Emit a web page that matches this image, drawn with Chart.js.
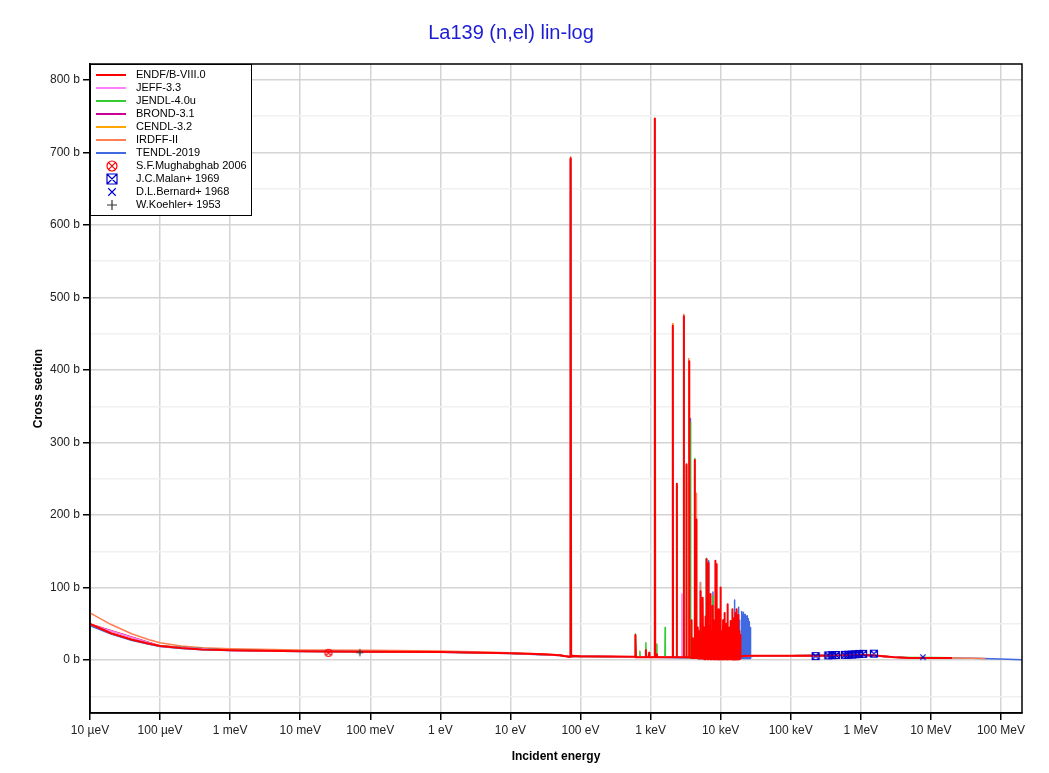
<!DOCTYPE html>
<html>
<head>
<meta charset="utf-8">
<title>La139 (n,el) lin-log</title>
<script src="https://cdn.jsdelivr.net/npm/chart.js@4.4.1/dist/chart.umd.min.js"></script>
<style>
  body { margin: 0; background: #fff; }
  canvas { display: block; }
</style>
</head>
<body>
<canvas id="xsChart" width="1049" height="773"></canvas>
<script>
// energy axis (eV) and its tick labels
const energyTicks = [1e-5, 1e-4, 1e-3, 1e-2, 1e-1, 1, 10, 100, 1e3, 1e4, 1e5, 1e6, 1e7, 1e8];
const energyTickLabels = ["10 µeV", "100 µeV", "1 meV", "10 meV", "100 meV", "1 eV", "10 eV",
    "100 eV", "1 keV", "10 keV", "100 keV", "1 MeV", "10 MeV", "100 MeV"];
const sectionTicks = [-50, 0, 50, 100, 150, 200, 250, 300, 350, 400, 450, 500, 550, 600, 650, 700, 750, 800];

// ENDF/B-VIII.0
const endfE = [1e-5, 2e-5, 4e-5, 7e-5, 1e-4, 2e-4, 4e-4, 1e-3, 1e-2, 0.1, 1, 4, 10, 30, 50, 68,
    71.0, 72.3, 73.6, 76, 100, 300, 600,
    602, 611, 620, 845, 857, 869, 945, 955, 965, 1135, 1150, 1165, 1220, 1230, 1240,
    2060, 2077, 2094, 2350, 2366, 2382, 2960, 2979, 2998, 3230, 3250, 3270,
    3540, 3560, 3580, 3820, 3840, 3860, 3980, 4000, 4020, 4250, 4271, 4292, 4490, 4509, 4528,
    4690, 4710, 4730,
    4844, 4864, 4884, 4980, 5000, 5020, 5123, 5143, 5163, 5230, 5250, 5270,
    5347, 5367, 5387, 5460, 5480, 5500, 5581, 5601, 5621, 5690, 5710, 5730,
    5806, 5826, 5846, 5999, 6019, 6039, 6110, 6140, 6170, 6231, 6261, 6291,
    6370, 6400, 6430, 6504, 6534, 6564, 6610, 6640, 6670, 6721, 6751, 6781,
    6910, 6940, 6970, 7108, 7138, 7168, 7260, 7290, 7320, 7417, 7447, 7477,
    7580, 7610, 7640, 7741, 7771, 7801, 7895, 7925, 7955, 8052, 8082, 8112,
    8210, 8240, 8270, 8376, 8406, 8436, 8656, 8686, 8716, 8840, 8870, 8900,
    9034, 9064, 9094, 9230, 9260, 9290, 9429, 9459, 9489, 9650, 9680, 9710,
    9872, 9902, 9932, 10070, 10110, 10150, 10290, 10330, 10370, 10550, 10590, 10630,
    10810, 10850, 10890, 11030, 11070, 11110, 11250, 11290, 11330, 11490, 11530, 11570,
    11740, 11780, 11820, 11930, 11970, 12010, 12130, 12170, 12210, 12390, 12430, 12470,
    12660, 12700, 12740, 12910, 12950, 12990, 13170, 13210, 13250, 13430, 13470, 13510,
    13700, 13740, 13780, 14000, 14040, 14080, 14300, 14340, 14380, 14540, 14580, 14620,
    14780, 14820, 14860, 15020, 15060, 15100, 15270, 15310, 15350, 15520, 15560, 15600,
    15780, 15820, 15860, 16040, 16080, 16120, 16310, 16350, 16390, 16690, 16730, 16770,
    17050, 17090, 17130, 17410, 17450, 17490, 17700, 17740, 17780, 17990, 18030, 18070,
    18290, 18330, 18370, 18600, 18640, 18680, 18900, 18940, 18980, 19210, 19250, 19290,
    20000, 30000, 1e5, 3e5, 1e6, 1.5e6, 3e6, 5e6, 8e6, 1.5e7, 2e7];
const endfXS = [50, 37, 28, 22.5, 19.5, 16.5, 14.5, 13.4, 12, 11.4, 11, 10, 9.3, 8, 6.5, 4.5,
    4.5, 692, 5, 6, 5.2, 4.8, 4.5,
    4, 34.5, 4, 4, 14, 4, 4, 10, 4, 4, 747, 4, 4, 8, 4,
    4, 461, 4, 4, 243, 4, 4, 474, 4, 4, 270, 4,
    4, 412, 4, 3, 55, 3, 3, 30, 3, 3, 276, 3, 3, 194, 3,
    3, 45, 3,
    2, 40, 2, 2, 25, 2, 2, 95, 2, 2, 35, 2,
    2, 30, 2, 2, 20, 2, 2, 86, 2, 2, 30, 2,
    2, 45, 1, 1, 60, 2, 2, 35, 2, 2, 139, 2,
    2, 40, 2, 2, 50, 1, 1, 30, 2, 1, 134, 2,
    2, 45, 2, 2, 91, 1, 1, 30, 2, 1, 40, 2,
    2, 35, 2, 2, 75, 1, 1, 40, 2, 1, 55, 2,
    2, 30, 2, 2, 137, 1, 1, 132, 2, 2, 40, 1,
    1, 45, 2, 2, 30, 2, 1, 70, 2, 2, 45, 1,
    1, 100, 2, 2, 30, 1, 1, 40, 2, 2, 35, 1,
    1, 55, 2, 2, 30, 1, 1, 65, 2, 2, 40, 1,
    1, 40, 2, 2, 25, 1, 1, 50, 2, 2, 35, 1,
    1, 77, 2, 2, 30, 1, 1, 45, 2, 2, 40, 1,
    1, 54, 2, 2, 30, 1, 1, 40, 2, 2, 35, 1,
    1, 70, 2, 2, 30, 1, 1, 50, 2, 2, 40, 1,
    1, 58, 2, 2, 30, 1, 1, 65, 2, 2, 70, 1,
    1, 35, 2, 2, 45, 1, 1, 30, 2, 2, 62, 1,
    1, 35, 2, 2, 40, 1, 1, 25, 2, 2, 35, 4,
    5.5, 6, 5.8, 5.8, 7, 6.5, 4, 2.8, 2.8, 3, 3];

// JEFF-3.3
const jeffE = [1e-5, 1e-4, 1e-3, 1e-2, 1, 10, 50, 71.0, 72.3, 73.6, 100, 1135, 1150, 1165,
    2060, 2077, 2094, 2780, 2800, 2820, 2960, 2979, 2998, 20000, 1e5, 1e6, 5e6, 2e7];
const jeffXS = [49, 19.2, 13.3, 12, 11, 9.3, 6.5, 4.5, 690, 5, 5.2, 4, 745, 4,
    4, 458, 4, 4, 91, 4, 4, 470, 4, 5.5, 5.8, 7, 2.8, 3];

// JENDL-4.0u
const jendlE = [1e-5, 2e-5, 4e-5, 1e-4, 1e-3, 1e-2, 1, 10, 50, 71.0, 72.3, 73.6, 100,
    602, 611, 620, 694, 704, 714, 845, 857, 869, 945, 955, 965, 1135, 1150, 1165,
    1220, 1230, 1240, 1600, 1613, 1626, 2060, 2077, 2094, 2350, 2366, 2382,
    2960, 2979, 2998, 3230, 3250, 3270, 3680, 3700, 3720, 4250, 4271, 4292,
    6231, 6261, 6291, 7741, 7771, 7801, 20000, 1e5, 1e6, 3e6, 5e6, 1e7, 2e7];
const jendlXS = [49.5, 37, 28, 19.4, 13.4, 12, 11, 9.3, 6.5, 4.5, 690, 5, 5.2,
    4, 36, 4, 4, 12, 4, 4, 24, 4, 4, 10, 4, 4, 745, 4,
    4, 22, 4, 4, 45, 4, 4, 458, 4, 4, 240, 4,
    4, 470, 4, 4, 268, 4, 3, 328, 3, 3, 278, 3,
    2, 140, 2, 1, 88, 1, 5.5, 5.8, 7, 4.2, 3.5, 3.6, 3.3];

// BROND-3.1
const brondE = [1e-5, 1e-4, 1e-3, 1e-2, 1, 10, 50, 71.0, 72.3, 73.6, 100, 1135, 1150, 1165,
    2960, 2979, 2998, 20000, 1e5, 1e6, 5e6, 2e7];
const brondXS = [49.5, 19.3, 13.4, 12, 11, 9.3, 6.5, 4.5, 691, 5, 5.2, 4, 746, 4,
    4, 472, 4, 5.5, 5.8, 7, 2.8, 3];

// CENDL-3.2
const cendlE = [1e-5, 1e-4, 1e-3, 1e-2, 1, 10, 50, 71.0, 72.3, 73.6, 100, 1135, 1150, 1165,
    2060, 2077, 2094, 20000, 1e5, 1e6, 5e6, 2e7];
const cendlXS = [49.8, 19.4, 13.4, 12, 11, 9.3, 6.5, 4.5, 692, 5, 5.2, 4, 746, 4,
    4, 463, 4, 5.5, 5.8, 7, 2.8, 3];

// IRDFF-II
const irdffE = [1e-5, 2e-5, 4e-5, 7e-5, 1e-4, 2e-4, 4e-4, 1e-3, 1e-2, 0.1, 1, 4, 10, 30, 50, 68,
    71.0, 72.3, 73.6, 100, 2060, 2077, 2094, 2960, 2979, 2998, 3480, 3500, 3520,
    4490, 4509, 4528, 5123, 5143, 5163, 20000, 1e5, 1e6, 3e6, 5e6, 2e7, 4e7, 6e7];
const irdffXS = [65, 49, 36, 28, 24, 19.5, 17, 15.6, 13.8, 13.4, 12.5, 11.2, 10, 8.5, 7, 5,
    5, 694, 5, 5.4, 4, 464, 4, 4, 477, 4, 3, 416, 3,
    3, 230, 3, 2, 107, 2, 5.5, 5.8, 7, 4, 2.8, 3, 2.5, 2.2];

// TENDL-2019
const tendlE = [1e-5, 2e-5, 4e-5, 7e-5, 1e-4, 2e-4, 4e-4, 1e-3, 1e-2, 1, 10, 50, 71.0, 72.3, 73.6, 100,
    1135, 1150, 1165, 3680, 3700, 3720, 5123, 5143, 5163, 6231, 6261, 6291,
    6721, 6751, 6781, 7741, 7771, 7801, 15780, 15820, 15860, 16850, 16890, 16930,
    17990, 18030, 18070, 18600, 18640, 18680, 19660, 19700, 19740, 20100, 20130, 20160,
    20530, 20560, 20590, 20880, 20910, 20940, 21210, 21240, 21270, 21570, 21600, 21630,
    21920, 21950, 21980, 22310, 22340, 22370, 22650, 22680, 22710, 23050, 23080, 23110,
    23400, 23430, 23460, 23810, 23840, 23870, 24190, 24220, 24250, 24600, 24630, 24660,
    24990, 25020, 25050, 25420, 25450, 25480, 25820, 25850, 25880, 26680, 26710, 26740,
    30000, 1e5, 1e6, 5e6, 2e7, 4e7, 1e8, 2e8];
const tendlXS = [47.5, 36, 27, 21.8, 18.8, 16, 14.2, 13.1, 11.8, 10.8, 9.1, 6.3, 4.5, 690, 5, 5.1,
    4, 744, 4, 3, 333, 3, 2, 107, 2, 2, 140, 2,
    2, 137, 2, 1, 94, 1, 2, 83, 2, 2, 60, 2,
    2, 73, 2, 2, 55, 2, 2, 67, 2, 2, 64, 2,
    2, 62, 2, 2, 66, 2, 2, 65, 2, 2, 63, 2,
    2, 60, 2, 2, 62, 2, 2, 63, 2, 2, 60, 2,
    2, 58, 2, 2, 61, 2, 2, 60, 2, 2, 57, 2,
    2, 55, 2, 2, 53, 2, 2, 50, 2, 2, 45, 4,
    5.8, 5.8, 7, 2.8, 2.8, 2.5, 1.4, 0.5];

// measurements
const mughabghabE = [0.0253];
const mughabghabXS = [10.0];
const malanE = [2.27e5, 3.44e5, 3.92e5, 4.42e5, 5.94e5, 6.62e5, 7.55e5, 8.41e5, 9.49e5, 1.08e6, 1.54e6];
const malanXS = [5.5, 6.5, 6.8, 7.0, 7.2, 7.4, 7.6, 8.0, 8.5, 8.6, 8.8];
const bernardE = [7.7e6];
const bernardXS = [4.0];
const koehlerE = [0.0709];
const koehlerXS = [10.3];

function toPoints(es, xs) {
    return es.map((e, i) => ({ x: e, y: xs[i] }));
}

// little marker drawings, used for both the points and the legend
function paintMarker(g, kind, cx, cy, size, color) {
    const r = size / 2 - 0.5;
    g.save();
    g.strokeStyle = color;
    g.lineWidth = 1.2;
    g.beginPath();
    if (kind === "circleX") {
        g.arc(cx, cy, r, 0, 2 * Math.PI);
        const d = r * 0.62;
        g.moveTo(cx - d, cy - d); g.lineTo(cx + d, cy + d);
        g.moveTo(cx + d, cy - d); g.lineTo(cx - d, cy + d);
    } else if (kind === "squareX") {
        g.rect(cx - r, cy - r, 2 * r, 2 * r);
        g.moveTo(cx - r, cy - r); g.lineTo(cx + r, cy + r);
        g.moveTo(cx + r, cy - r); g.lineTo(cx - r, cy + r);
    } else if (kind === "x") {
        const d = r * 0.75;
        g.moveTo(cx - d, cy - d); g.lineTo(cx + d, cy + d);
        g.moveTo(cx + d, cy - d); g.lineTo(cx - d, cy + d);
    } else {
        g.moveTo(cx - r, cy); g.lineTo(cx + r, cy);
        g.moveTo(cx, cy - r); g.lineTo(cx, cy + r);
    }
    g.stroke();
    g.restore();
}

function markerImage(kind, size, color) {
    const c = document.createElement("canvas");
    c.width = size + 2;
    c.height = size + 2;
    paintMarker(c.getContext("2d"), kind, (size + 2) / 2, (size + 2) / 2, size, color);
    return c;
}

function lineSet(label, es, xs, color, width) {
    return {
        label: label, data: toPoints(es, xs), borderColor: color, backgroundColor: color,
        borderWidth: width, borderJoinStyle: "round", pointRadius: 0, pointHoverRadius: 0,
        tension: 0, fill: false
    };
}

function pointSet(label, es, xs, kind, color, size) {
    return {
        label: label, data: toPoints(es, xs), showLine: false, order: -1,
        pointStyle: markerImage(kind, size, color), pointRadius: size / 2,
        marker: kind, markerColor: color
    };
}

const frame = {
    id: "frame",
    afterDatasetsDraw(chart) {
        const a = chart.chartArea, ctx = chart.ctx;
        ctx.save();
        ctx.strokeStyle = "#000";
        ctx.lineWidth = 1.5;
        ctx.strokeRect(a.left, a.top, a.right - a.left, a.bottom - a.top);
        ctx.restore();
    }
};

const boxLegend = {
    id: "boxLegend",
    afterDraw(chart) {
        const a = chart.chartArea, ctx = chart.ctx;
        const x0 = a.left, y0 = a.top;
        ctx.save();
        ctx.fillStyle = "#fff";
        ctx.fillRect(x0, y0, 161, 151);
        ctx.strokeStyle = "#000";
        ctx.lineWidth = 1;
        ctx.strokeRect(x0 + 0.5, y0 + 0.5, 161, 151);
        ctx.font = "11px 'Liberation Sans', Arial, sans-serif";
        ctx.textBaseline = "middle";
        chart.data.datasets.forEach((ds, i) => {
            const y = y0 + 11 + i * 13;
            if (ds.marker) {
                paintMarker(ctx, ds.marker, x0 + 22, y, 11, ds.markerColor);
            } else {
                ctx.strokeStyle = ds.borderColor;
                ctx.lineWidth = 2;
                ctx.beginPath();
                ctx.moveTo(x0 + 6, y);
                ctx.lineTo(x0 + 36, y);
                ctx.stroke();
            }
            ctx.fillStyle = "#000";
            ctx.fillText(ds.label, x0 + 46, y);
        });
        ctx.restore();
    }
};

document.addEventListener("DOMContentLoaded", function () {
    Chart.defaults.font.family = "'Liberation Sans', Arial, sans-serif";

    new Chart(document.getElementById("xsChart"), {
        type: "line",
        data: {
            datasets: [
                lineSet("ENDF/B-VIII.0", endfE, endfXS, "#ff0000", 2),
                lineSet("JEFF-3.3", jeffE, jeffXS, "#ff80ff", 1.5),
                lineSet("JENDL-4.0u", jendlE, jendlXS, "#33cc33", 1.5),
                lineSet("BROND-3.1", brondE, brondXS, "#cc0099", 1.5),
                lineSet("CENDL-3.2", cendlE, cendlXS, "#ffa500", 1.5),
                lineSet("IRDFF-II", irdffE, irdffXS, "#ff7f50", 1.5),
                lineSet("TENDL-2019", tendlE, tendlXS, "#4169e1", 1.5),
                pointSet("S.F.Mughabghab 2006", mughabghabE, mughabghabXS, "circleX", "#ff0000", 8),
                pointSet("J.C.Malan+ 1969", malanE, malanXS, "squareX", "#0000cc", 8),
                pointSet("D.L.Bernard+ 1968", bernardE, bernardXS, "x", "#0000cc", 8),
                pointSet("W.Koehler+ 1953", koehlerE, koehlerXS, "plus", "#333333", 8)
            ]
        },
        options: {
            responsive: false,
            animation: false,
            layout: { padding: { left: 0, right: 27, top: 0, bottom: 0 } },
            plugins: {
                legend: { display: false },
                tooltip: { enabled: false },
                title: {
                    display: true,
                    text: "La139 (n,el) lin-log",
                    color: "#1c1cd6",
                    font: { size: 20, weight: "normal" },
                    padding: { top: 21, bottom: 19 }
                }
            },
            scales: {
                x: {
                    type: "logarithmic",
                    min: 1e-5,
                    max: 2e8,
                    afterBuildTicks: (scale) => { scale.ticks = energyTicks.map(v => ({ value: v })); },
                    afterFit: (scale) => { scale.height = 60; },
                    ticks: {
                        autoSkip: false, maxRotation: 0, color: "#222", font: { size: 12 },
                        callback: (v, i) => energyTickLabels[i]
                    },
                    grid: { color: "#d4d4d4", lineWidth: 1.5, tickColor: "#000", tickLength: 7 },
                    border: { color: "#000", width: 1.5 },
                    title: {
                        display: true, text: "Incident energy", color: "#000",
                        font: { size: 12, weight: "bold" }, padding: { top: 0, bottom: 9 }
                    }
                },
                y: {
                    min: -73,
                    max: 822,
                    afterBuildTicks: (scale) => { scale.ticks = sectionTicks.map(v => ({ value: v })); },
                    afterFit: (scale) => { scale.width = 90; },
                    ticks: {
                        color: "#222", font: { size: 12 },
                        callback: (v) => (v % 100 === 0 ? v + " b" : "")
                    },
                    grid: {
                        color: (c) => (c.tick && c.tick.value % 100 === 0 ? "#d4d4d4" : "#f0f0f0"),
                        lineWidth: 1.5,
                        tickColor: (c) => (c.tick && c.tick.value % 100 === 0 ? "#000" : "rgba(0,0,0,0)"),
                        tickLength: 7
                    },
                    border: { color: "#000", width: 1.5 },
                    title: {
                        display: true, text: "Cross section", color: "#000",
                        font: { size: 12, weight: "bold" }, padding: { top: 31, bottom: 0 }
                    }
                }
            }
        },
        plugins: [frame, boxLegend]
    });
});
</script>
</body>
</html>
